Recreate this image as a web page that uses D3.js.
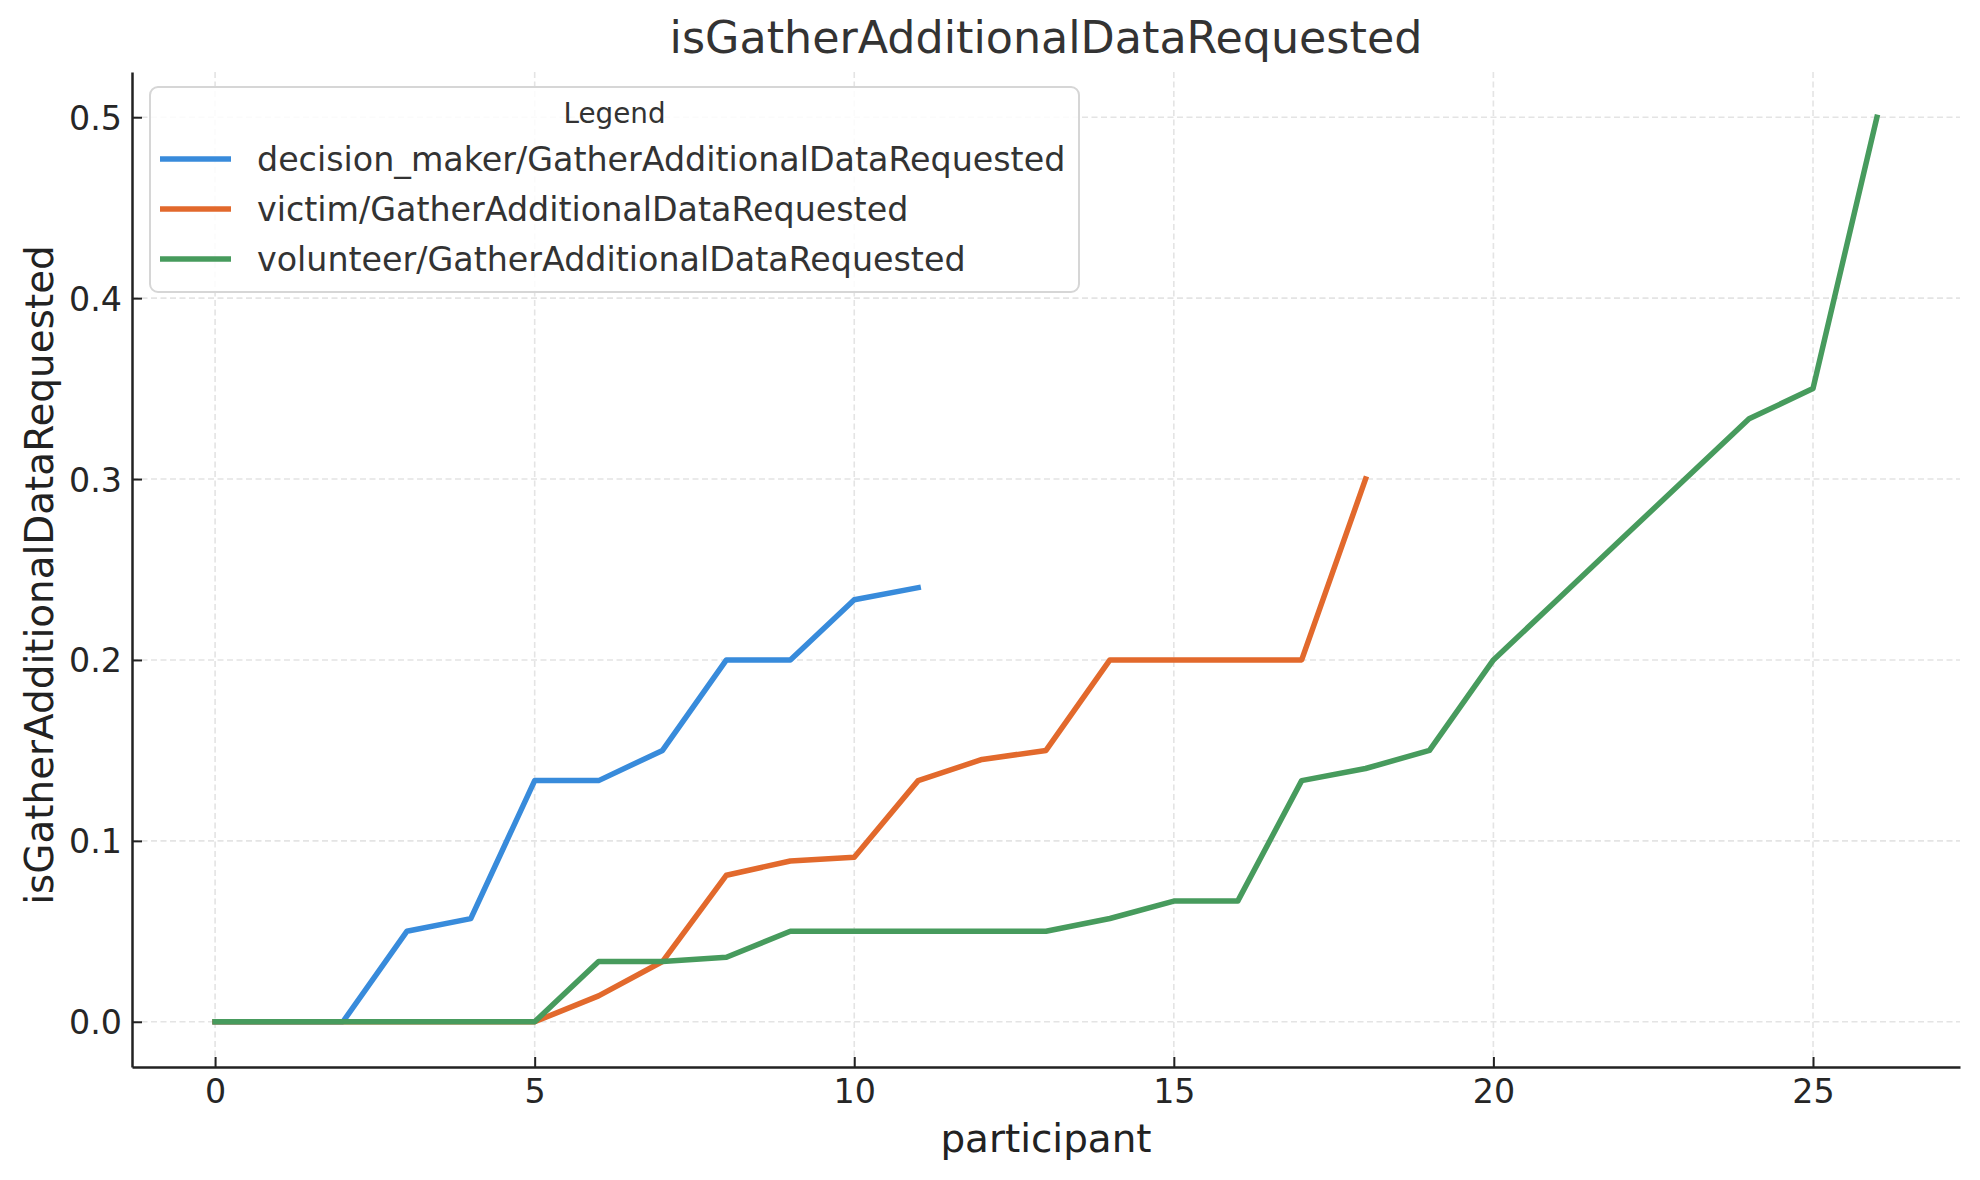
<!DOCTYPE html>
<html>
<head>
<meta charset="utf-8">
<script src="https://cdn.jsdelivr.net/npm/d3@7"></script>
<style>
  html, body { margin: 0; padding: 0; background: #ffffff; }
  svg { display: block; font-family: "DejaVu Sans", sans-serif; }
</style>
</head>
<body>
<svg id="chart" width="1980" height="1180"></svg>
<script>
// ---- data ----
const chartTitle = "isGatherAdditionalDataRequested";
const xLabel = "participant";
const yLabel = "isGatherAdditionalDataRequested";
const legendTitle = "Legend";

const seriesNames = [
  "decision_maker/GatherAdditionalDataRequested",
  "victim/GatherAdditionalDataRequested",
  "volunteer/GatherAdditionalDataRequested"
];
const seriesColors = ["#388bdb", "#e2692c", "#479b5d"];

const decisionMakerValues = [0, 0, 0, 0.05, 0.057, 0.1333, 0.1333, 0.15, 0.2, 0.2, 0.2333, 0.24];
const victimValues = [0, 0, 0, 0, 0, 0, 0.0143, 0.0333, 0.081, 0.0889, 0.0909, 0.1333, 0.145, 0.15, 0.2, 0.2, 0.2, 0.2, 0.3];
const volunteerValues = [0, 0, 0, 0, 0, 0, 0.0333, 0.0333, 0.0357, 0.05, 0.05, 0.05, 0.05, 0.05, 0.0571, 0.0667, 0.0667, 0.1333, 0.14, 0.15, 0.2, 0.2333, 0.2667, 0.3, 0.3333, 0.35, 0.5];

const xTicks = [0, 5, 10, 15, 20, 25];
const yTicks = [0.0, 0.1, 0.2, 0.3, 0.4, 0.5];

const seriesValues = [decisionMakerValues, victimValues, volunteerValues];

// ---- layout ----
const svg = d3.select("#chart");
const plot = { left: 132, top: 72, right: 1960, bottom: 1067 };

const x = d3.scaleLinear().domain([-1.3, 27.3]).range([plot.left, plot.right]);
const y = d3.scaleLinear().domain([-0.025, 0.525]).range([plot.bottom, plot.top]);

svg.append("rect").attr("width", 1980).attr("height", 1180).attr("fill", "#ffffff");

// grid
const grid = svg.append("g").attr("class", "grid");
grid.selectAll("line.gx").data(xTicks).join("line")
  .attr("x1", d => x(d)).attr("x2", d => x(d))
  .attr("y1", plot.top).attr("y2", plot.bottom)
  .attr("stroke", "#e4e4e4").attr("stroke-width", 1.6).attr("stroke-dasharray", "6,3.5");
grid.selectAll("line.gy").data(yTicks).join("line")
  .attr("x1", plot.left).attr("x2", plot.right)
  .attr("y1", d => y(d)).attr("y2", d => y(d))
  .attr("stroke", "#e4e4e4").attr("stroke-width", 1.6).attr("stroke-dasharray", "6,3.5");

// lines
const line = d3.line().x((d, i) => x(i)).y(d => y(d));
seriesValues.forEach((vals, k) => {
  svg.append("path")
    .datum(vals)
    .attr("d", line)
    .attr("fill", "none")
    .attr("stroke", seriesColors[k])
    .attr("stroke-width", 5.5)
    .attr("stroke-linejoin", "round")
    .attr("stroke-linecap", "square");
});

// axes
const xAxis = d3.axisBottom(x).tickValues(xTicks).tickFormat(d3.format("d"))
  .tickSizeInner(-10).tickSizeOuter(0).tickPadding(12);
const yAxis = d3.axisLeft(y).tickValues(yTicks).tickFormat(d3.format(".1f"))
  .tickSizeInner(-10).tickSizeOuter(0).tickPadding(10);

const gx = svg.append("g").attr("transform", `translate(0,${plot.bottom})`).call(xAxis);
const gy = svg.append("g").attr("transform", `translate(${plot.left},0)`).call(yAxis);

[gx, gy].forEach(g => {
  g.select(".domain").attr("stroke", "#222").attr("stroke-width", 2.5);
  g.selectAll(".tick line").attr("stroke", "#222").attr("stroke-width", 2);
  g.selectAll(".tick text").attr("fill", "#262626").attr("font-size", 33.3)
    .attr("font-family", "DejaVu Sans");
});
gx.selectAll(".tick text").attr("dy", null).attr("y", 36);
gy.selectAll(".tick text").attr("dy", "0.36em");

// title and labels
svg.append("text").attr("x", (plot.left + plot.right) / 2).attr("y", 53)
  .attr("text-anchor", "middle").attr("font-size", 44.4).attr("fill", "#333")
  .text(chartTitle);
svg.append("text").attr("x", (plot.left + plot.right) / 2).attr("y", 1152)
  .attr("text-anchor", "middle").attr("font-size", 38.9).attr("fill", "#222")
  .text(xLabel);
svg.append("text")
  .attr("transform", `translate(53,575) rotate(-90)`)
  .attr("text-anchor", "middle").attr("font-size", 38.9).attr("fill", "#222")
  .text(yLabel);

// legend
const lg = svg.append("g");
const lgBox = { x: 150, y: 87, w: 929, h: 205 };
lg.append("rect").attr("x", lgBox.x).attr("y", lgBox.y).attr("width", lgBox.w).attr("height", lgBox.h)
  .attr("rx", 8).attr("ry", 8)
  .attr("fill", "#ffffff").attr("fill-opacity", 0.85)
  .attr("stroke", "#d6d6d6").attr("stroke-width", 2);
lg.append("text").attr("x", lgBox.x + lgBox.w / 2).attr("y", 123)
  .attr("text-anchor", "middle").attr("font-size", 27.8).attr("fill", "#333")
  .text(legendTitle);
const entryY = [159, 209, 259];
seriesNames.forEach((name, k) => {
  lg.append("line").attr("x1", 160).attr("x2", 231)
    .attr("y1", entryY[k]).attr("y2", entryY[k])
    .attr("stroke", seriesColors[k]).attr("stroke-width", 5.5);
  lg.append("text").attr("x", 257).attr("y", entryY[k]).attr("dy", "0.36em")
    .attr("font-size", 33.3).attr("fill", "#333").text(name);
});
</script>
</body>
</html>
